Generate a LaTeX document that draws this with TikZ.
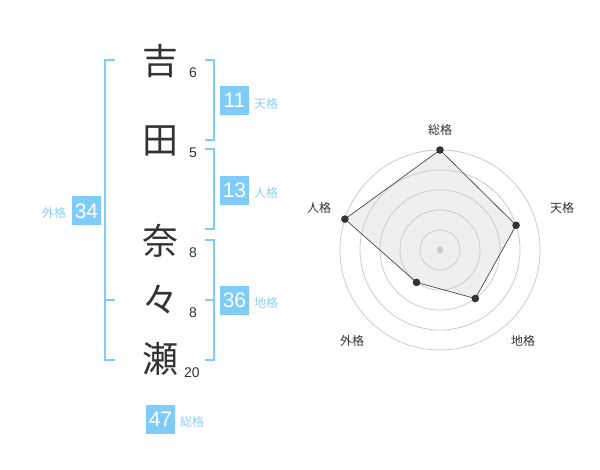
\documentclass[tikz,border=0pt]{standalone}
\usepackage{fontspec}
\setmainfont{Liberation Sans}
\newfontfamily\jp{Noto Sans CJK JP}
\definecolor{sky}{HTML}{80CCF8}
\definecolor{skytext}{HTML}{8ED0F5}
\definecolor{ink}{HTML}{333333}
\definecolor{ring}{HTML}{CCCCCC}
\definecolor{area}{HTML}{EFEFEF}
\tikzset{
  kanji/.style={inner sep=0pt, text=ink, font=\jp\fontsize{36}{36}\selectfont},
  strokes/.style={inner sep=0pt, text=ink, font=\fontsize{14}{14}\selectfont},
  numbox/.style={fill=sky, minimum width=29pt, minimum height=29pt, inner sep=0pt, text=white, font=\fontsize{21}{21}\selectfont},
  kaku/.style={inner sep=0pt, text=skytext, font=\jp\fontsize{12}{12}\selectfont},
  bracket/.style={draw=sky, line width=2pt},
  radarlabel/.style={inner sep=0pt, text=ink, font=\jp\fontsize{12}{12}\selectfont},
  ringline/.style={draw=ring, line width=0.8pt},
  vdot/.style={circle, inner sep=0pt, minimum size=8pt},
}
\begin{document}
\begin{tikzpicture}[x=1pt,y=-1pt]
\useasboundingbox (0,0) rectangle (600,470);
\fill[white] (0,0) rectangle (600,470);
% name characters
\node[kanji] (k1) at (160,61) {吉};
\node[kanji] (k2) at (160,141) {田};
\node[kanji] (k3) at (160,241) {奈};
\node[kanji] (k4) at (160,300) {々};
\node[kanji] (k5) at (160,359) {瀬};
\node[strokes] (s1) at (193,73) {6};
\node[strokes] (s2) at (193,153) {5};
\node[strokes] (s3) at (193,253) {8};
\node[strokes] (s4) at (193,313) {8};
\node[strokes] (s5) at (192,373) {20};
% brackets
\draw[bracket] (115,60) -- (105,60) -- (105,360) -- (115,360);
\draw[bracket] (105,300) -- (115,300);
\draw[bracket] (205,60) -- (214,60) -- (214,140) -- (205,140);
\draw[bracket] (205,149) -- (214,149) -- (214,229) -- (205,229);
\draw[bracket] (205,240) -- (214,240) -- (214,360) -- (205,360);
\draw[bracket] (205,300) -- (214,300);
% boxes
\node[numbox] (b11) at (234.5,100.5) {11};
\node[kaku] (l11) at (266,104) {天格};
\node[numbox] (b13) at (234.5,190.5) {13};
\node[kaku] (l13) at (266,193) {人格};
\node[numbox] (b36) at (234.5,300.5) {36};
\node[kaku] (l36) at (266,303) {地格};
\node[numbox] (b34) at (86.5,211) {34};
\node[kaku] (l34) at (54,213) {外格};
\node[numbox] (b47) at (160.5,419) {47};
\node[kaku] (l47) at (192,422) {総格};
% radar
\coordinate (c) at (440,250);
\node[vdot] (p1) at (440,150) {};
\node[vdot] (p2) at (516.1,225.3) {};
\node[vdot] (p3) at (475.3,298.5) {};
\node[vdot] (p4) at (416.5,282.4) {};
\node[vdot] (p5) at (344.9,219.1) {};
\fill[area] (p1.center) -- (p2.center) -- (p3.center) -- (p4.center) -- (p5.center) -- cycle;
\foreach \r in {20,40,60,80,100} \draw[ringline] (c) circle (\r);
\fill[ring] (c) circle (3.5);
\draw[ink, line width=0.6pt] (p1.center) -- (p2.center) -- (p3.center) -- (p4.center) -- (p5.center) -- cycle;
\foreach \p in {p1,p2,p3,p4,p5} \fill[ink] (\p.center) circle (3.8);
\node[radarlabel] (r1) at (440,130) {総格};
\node[radarlabel] (r2) at (562,208) {天格};
\node[radarlabel] (r3) at (523,341) {地格};
\node[radarlabel] (r4) at (352,341) {外格};
\node[radarlabel] (r5) at (319,208) {人格};
\end{tikzpicture}
\end{document}
